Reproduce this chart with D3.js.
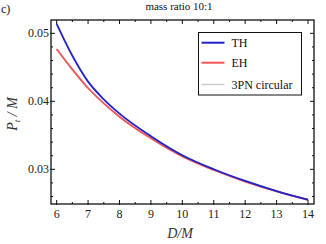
<!DOCTYPE html>
<html><head><meta charset="utf-8">
<script src="https://cdn.jsdelivr.net/npm/d3@7"></script>
<style>html,body{margin:0;padding:0;background:#fff;}svg{display:block;}</style>
</head><body>
<script>
const distances = [6, 6.5, 7, 7.5, 8, 9, 10, 11, 12, 13, 14];
const thValues  = [0.0514, 0.0467, 0.0429, 0.0403, 0.0382, 0.03488, 0.03208, 0.03001, 0.02829, 0.02681, 0.02553];
const ehValues  = [0.0477, 0.0447, 0.04196, 0.0397, 0.03774, 0.03456, 0.0319, 0.0299, 0.0282, 0.02675, 0.0255];
const pnValues  = [0.0476, 0.0446, 0.0419, 0.0397, 0.0377, 0.03455, 0.0319, 0.0299, 0.0282, 0.02675, 0.0255];
const xTicks = [6, 7, 8, 9, 10, 11, 12, 13, 14];
const yTicks = [0.03, 0.04, 0.05];
const seriesNames = ["TH", "EH", "3PN circular"];
const seriesColors = ["#2222cc", "#f25555", "#cccccc"];

const W = 326, H = 244;
const m = {l: 51, r: 12, t: 20, b: 40};
const svg = d3.select("body").append("svg").attr("width", W).attr("height", H);
const x = d3.scaleLinear().domain([5.82, 14.19]).range([m.l, W - m.r]);
const y = d3.scaleLinear().domain([0.0249, 0.05196]).range([H - m.b, m.t]);
const serif = "'Liberation Serif','DejaVu Serif',serif";

const line = d3.line().x((d, i) => x(distances[i])).y(d => y(d)).curve(d3.curveMonotoneX);
const widths = [1.8, 1.8, 1.3];
[2, 1, 0].forEach(k => {
  const vals = [thValues, ehValues, pnValues][k];
  svg.append("path").datum(vals).attr("d", line).attr("fill", "none")
    .attr("stroke", seriesColors[k]).attr("stroke-width", widths[k]);
});

svg.append("rect").attr("x", m.l).attr("y", m.t).attr("width", W - m.r - m.l).attr("height", H - m.b - m.t)
  .attr("fill", "none").attr("stroke", "#111").attr("stroke-width", 1.3);

const xMinor = d3.range(6.5, 14, 1);
const yMinor = d3.range(0.026, 0.052, 0.002).filter(v => !yTicks.some(t => Math.abs(t - v) < 1e-6));
const g = svg.append("g").attr("stroke", "#111").attr("stroke-width", 1);
xTicks.forEach(v => {
  g.append("line").attr("x1", x(v)).attr("x2", x(v)).attr("y1", H - m.b + 1).attr("y2", H - m.b - 4);
  g.append("line").attr("x1", x(v)).attr("x2", x(v)).attr("y1", m.t).attr("y2", m.t + 4);
});
xMinor.forEach(v => {
  g.append("line").attr("x1", x(v)).attr("x2", x(v)).attr("y1", H - m.b).attr("y2", H - m.b - 2);
  g.append("line").attr("x1", x(v)).attr("x2", x(v)).attr("y1", m.t).attr("y2", m.t + 2);
});
yTicks.forEach(v => {
  g.append("line").attr("x1", m.l - 1).attr("x2", m.l + 4).attr("y1", y(v)).attr("y2", y(v));
  g.append("line").attr("x1", W - m.r).attr("x2", W - m.r - 4).attr("y1", y(v)).attr("y2", y(v));
});
yMinor.forEach(v => {
  g.append("line").attr("x1", m.l).attr("x2", m.l + 2).attr("y1", y(v)).attr("y2", y(v));
  g.append("line").attr("x1", W - m.r).attr("x2", W - m.r - 2).attr("y1", y(v)).attr("y2", y(v));
});

xTicks.forEach(v => {
  svg.append("text").attr("x", x(v)).attr("y", H - m.b + 14).attr("text-anchor", "middle")
    .attr("font-family", serif).attr("font-size", 12).attr("fill", "#222").text(v);
});
yTicks.forEach(v => {
  svg.append("text").attr("x", m.l - 2).attr("y", y(v) + 4).attr("text-anchor", "end")
    .attr("font-family", serif).attr("font-size", 12).attr("fill", "#222").text(d3.format(".2f")(v));
});

svg.append("text").attr("x", 180).attr("y", 238).attr("text-anchor", "middle")
  .attr("font-family", serif).attr("font-size", 14).attr("font-style", "italic").attr("fill", "#333").text("D/M");
const yl = svg.append("text").attr("transform", "translate(17,114) rotate(-90)").attr("text-anchor", "middle")
  .attr("font-family", serif).attr("font-size", 14).attr("font-style", "italic").attr("fill", "#333");
yl.append("tspan").text("P");
yl.append("tspan").attr("font-size", 9).attr("dy", 3).text("t");
yl.append("tspan").attr("dy", -3).text(" / M");

svg.append("text").attr("x", 179).attr("y", 10).attr("text-anchor", "middle")
  .attr("font-family", serif).attr("font-size", 11).attr("fill", "#111").text("mass ratio 10:1");
svg.append("text").attr("x", 1).attr("y", 13).attr("font-family", serif).attr("font-size", 12).attr("fill", "#111").text("c)");

svg.append("rect").attr("x", 198.5).attr("y", 32.5).attr("width", 103).attr("height", 62.5)
  .attr("fill", "#fff").attr("stroke", "#111").attr("stroke-width", 1);
const ly = [42.7, 62.7, 84.5];
seriesNames.forEach((n, k) => {
  svg.append("line").attr("x1", 201.5).attr("x2", 224.5).attr("y1", ly[k]).attr("y2", ly[k])
    .attr("stroke", seriesColors[k]).attr("stroke-width", k < 2 ? 2 : 1.5);
  svg.append("text").attr("x", 231.5).attr("y", ly[k] + 4).attr("font-family", serif).attr("font-size", 12)
    .attr("fill", "#111").text(n);
});
</script>
</body></html>
